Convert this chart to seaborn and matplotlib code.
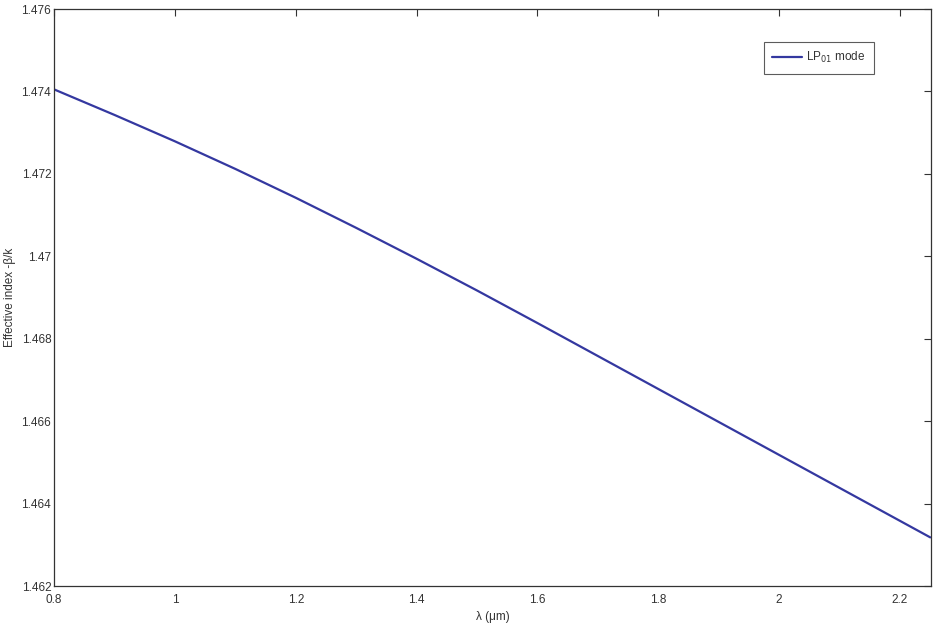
import pandas as pd
import matplotlib.pyplot as plt
import seaborn as sns

# values
wavelength = [0.8, 0.9, 1.0, 1.1, 1.2, 1.3, 1.4, 1.5, 1.6, 1.7, 1.8, 1.9, 2.0, 2.1, 2.2, 2.25]
neff = [1.47405, 1.47343, 1.47279, 1.47212, 1.47142, 1.47069, 1.46994, 1.46917,
        1.46838, 1.46758, 1.46678, 1.46598, 1.46518, 1.46438, 1.46358, 1.46318]
x_ticks = [0.8, 1, 1.2, 1.4, 1.6, 1.8, 2, 2.2]
x_tick_labels = ["0.8", "1", "1.2", "1.4", "1.6", "1.8", "2", "2.2"]
y_ticks = [1.462, 1.464, 1.466, 1.468, 1.47, 1.472, 1.474, 1.476]
y_tick_labels = ["1.462", "1.464", "1.466", "1.468", "1.47", "1.472", "1.474", "1.476"]

df = pd.DataFrame({"wavelength": wavelength, "neff": neff})

sns.set_style("white")
plt.rcParams["font.family"] = ["Liberation Sans", "DejaVu Sans"]

fig = plt.figure(figsize=(9.43, 6.34), dpi=100)
ax = fig.add_axes([0.0573, 0.0757, 0.930, 0.9101])

sns.lineplot(
    data=df,
    x="wavelength",
    y="neff",
    color="#3438a0",
    linewidth=1.6,
    label=r"LP$_{01}$ mode",
    ax=ax
)

ax.set_xlim(0.8, 2.2513)
ax.set_ylim(1.462, 1.476)
ax.set_xticks(x_ticks)
ax.set_xticklabels(x_tick_labels)
ax.set_yticks(y_ticks)
ax.set_yticklabels(y_tick_labels)

ax.tick_params(
    direction="in",
    length=5,
    width=0.8,
    color="#333333",
    labelsize=8.5,
    labelcolor="#333333",
    top=True,
    right=True,
    pad=2
)
ax.tick_params(axis="x", pad=6)

for spine in ax.spines.values():
    spine.set_color("#333333")
    spine.set_linewidth(0.9)

ax.set_xlabel("λ (μm)", fontsize=8.5, color="#333333", labelpad=3)
ax.set_ylabel("Effective index -β/k", fontsize=8.5, color="#333333", labelpad=4)

leg = ax.legend(
    loc="upper right",
    bbox_to_anchor=(0.935, 0.943),
    borderaxespad=0,
    fontsize=8.5,
    frameon=True,
    fancybox=False,
    handlelength=2.5,
    handletextpad=0.4,
    borderpad=0.7,
    labelcolor="#333333"
)
leg.get_frame().set_edgecolor("#333333")
leg.get_frame().set_linewidth(0.8)

plt.savefig("out.png", dpi=100)
